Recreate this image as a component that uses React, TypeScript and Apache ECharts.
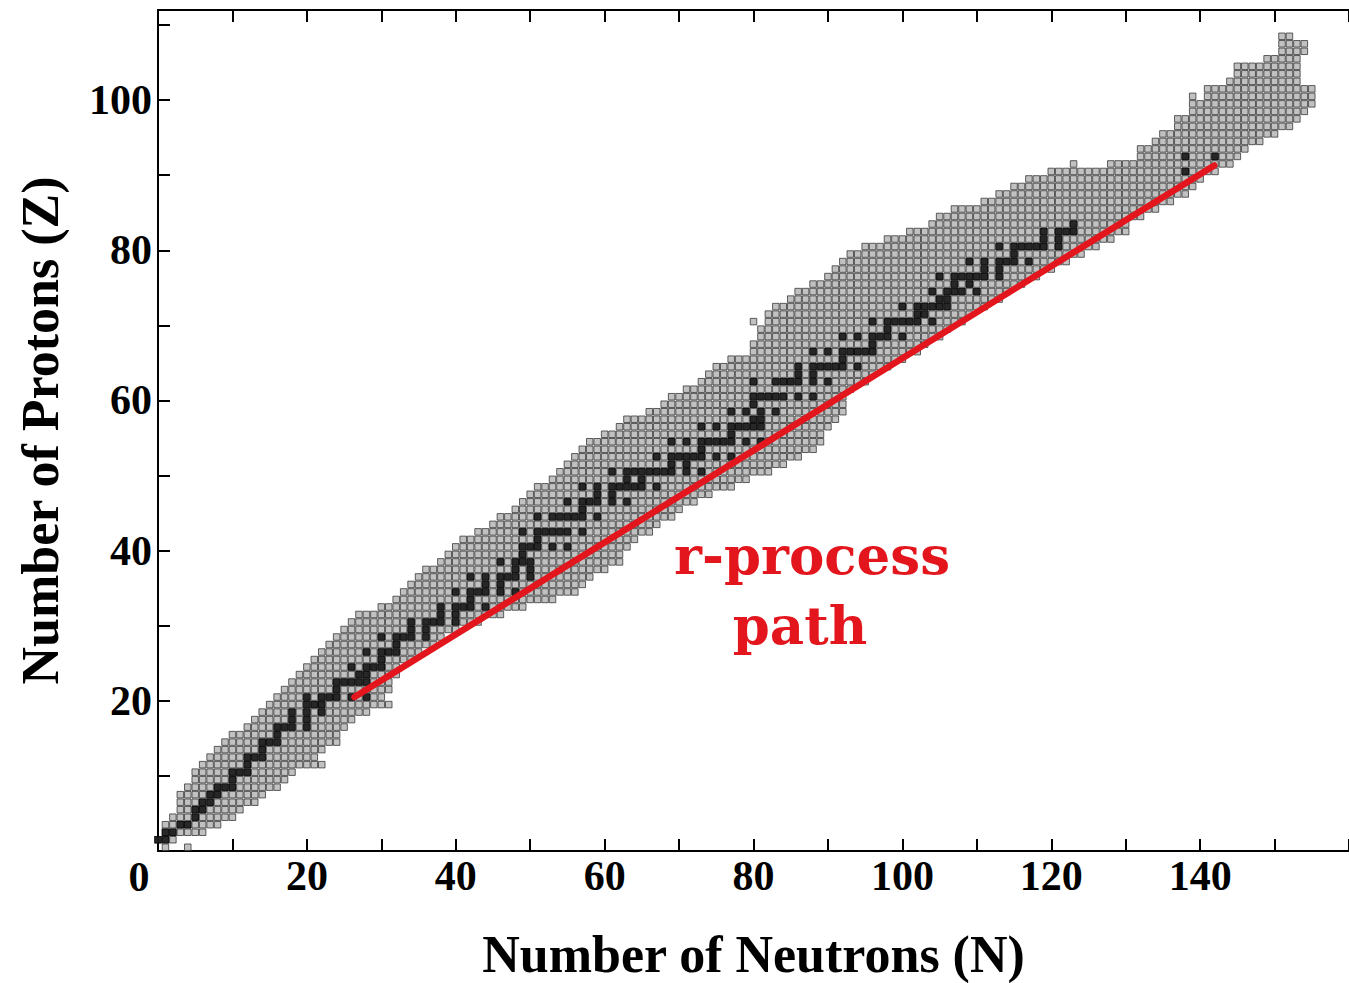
import React, { useEffect, useRef } from 'react';
import * as echarts from 'echarts';

// Chart of nuclides: for each proton number Z (array index) the lowest and highest
// neutron number N of the known nuclides.
const N_MIN: number[] = [
  1, // Z=0
  0, 1, 1, 2, 3, 3, 3, 4, 5, 5, // 1-10
  6, 7, 8, 9, 10, 12, 13, 14, 15, 16, // 11-20
  17, 18, 19, 20, 21, 22, 23, 24, 25, 26, // 21-30
  28, 30, 32, 33, 34, 35, 36, 38, 39, 40, // 31-40
  41, 43, 45, 46, 48, 49, 50, 51, 53, 54, // 41-50
  55, 56, 57, 59, 60, 62, 63, 66, 68, 69, // 51-60
  71, 73, 74, 75, 77, 80, 80, 81, 81, 82, // 61-70
  82, 83, 85, 86, 88, 90, 91, 92, 93, 95, // 71-80
  98, 101, 104, 105, 107, 111, 113, 115, 117, 120, // 81-90
  128, 132, 132, 134, 136, 137, 137, 139, 139, 141, // 91-100
  141, 144, 145, 145, 149, 151, 151, 151, // 101-108
];

const N_MAX: number[] = [
  1, // Z=0
  2, 6, 8, 10, 11, 13, 14, 16, 17, 18, // 1-10
  22, 21, 22, 24, 24, 25, 26, 28, 31, 30, // 11-20
  31, 31, 32, 32, 34, 35, 37, 38, 40, 43, // 21-30
  46, 49, 53, 56, 57, 58, 60, 62, 62, 63, // 31-40
  64, 66, 67, 69, 70, 72, 74, 77, 79, 82, // 41-50
  84, 86, 88, 89, 89, 90, 91, 92, 92, 92, // 51-60
  93, 95, 96, 98, 100, 102, 103, 105, 106, 108, // 61-70
  109, 111, 113, 114, 116, 118, 120, 122, 124, 126, // 71-80
  128, 130, 130, 132, 134, 136, 138, 139, 140, 142, // 81-90
  144, 145, 146, 148, 150, 152, 153, 154, 155, 155, // 91-100
  155, 153, 153, 153, 153, 154, 154, 152, // 101-108
];

// isolated known nuclides outside the ranges above: [N, Z]
const EXTRA_CELLS: number[][] = [
  [4, 0], [27, 31], [58, 54], [80, 70], [123, 91], [135, 95], [139, 100],
];

// stable nuclides (black cells), neutron numbers per Z as they sit in the picture
const STABLE_N: number[][] = [
  [], // 0
  [0, 1], [1, 2], [3, 4], [5], [5, 6], [6, 7], [7, 8], [8, 9, 10], [10], [10, 11, 12], // 1-10
  [12], [12, 13, 14], [14], [14, 15, 16], [16], [16, 17, 18, 20], [18, 20], [18, 20, 22], [20, 21, 22], [20, 22, 23, 24, 26, 28], // 11-20
  [24], [24, 25, 26, 27, 28], [27, 28], [26, 28, 29, 30], [30], [28, 30, 31, 32], [32], [30, 32, 33, 34, 36], [34, 36], [34, 36, 37, 38, 40], // 21-30
  [38, 40], [38, 40, 41, 42, 44], [42], [40, 42, 43, 44, 46, 48], [44, 46], [42, 44, 46, 47, 48, 50], [48, 50], [46, 48, 49, 50], [49], [49, 50, 51, 53, 55], // 31-40
  [51], [49, 51, 52, 53, 54, 55, 57], [], [51, 53, 54, 55, 56, 57, 59], [57], [55, 57, 58, 59, 61, 63], [59, 61], [57, 59, 61, 62, 63, 64, 65, 67], [63, 65], [61, 63, 64, 65, 66, 67, 68, 69, 71, 73], // 41-50
  [69, 71], [67, 69, 70, 71, 72, 73, 75, 77], [73], [69, 71, 73, 74, 75, 76, 77, 79, 81], [77], [73, 75, 77, 78, 79, 80, 81], [80, 81], [77, 79, 81, 83], [80], [80, 81, 82, 83, 84, 86, 88], // 51-60
  [], [80, 83, 84, 85, 86, 88, 90], [86, 88], [86, 88, 89, 90, 91, 92, 94], [92], [88, 90, 92, 93, 94, 95, 96], [96], [92, 94, 96, 97, 98, 100], [98], [96, 98, 99, 100, 101, 102, 104], // 61-70
  [102, 103], [100, 102, 103, 104, 105, 106], [105, 106], [104, 106, 107, 108, 110], [107, 109], [105, 107, 108, 109, 110, 111, 113], [111, 113], [109, 111, 113, 114, 115, 117], [115], [113, 115, 116, 117, 118, 119, 121], // 71-80
  [119, 121], [119, 121, 122, 123], [123], [], [], [], [], [], [], [138], // 81-90
  [], [138, 142], // 91-92
];

// r-process path end points: [N, Z]
const R_PROCESS_PATH: number[][] = [
  [26.4, 20.5],
  [141.9, 91.3],
];

const X_LABELS = [20, 40, 60, 80, 100, 120, 140];
const Y_LABELS = [20, 40, 60, 80, 100];

const App: React.FC = () => {
  const ref = useRef<HTMLDivElement>(null);

  useEffect(() => {
    if (!ref.current) return;
    const chart = echarts.init(ref.current, undefined, { renderer: 'svg' });

    const known: number[][] = [];
    N_MIN.forEach((lo, z) => {
      const hi = N_MAX[z];
      for (let n = lo; n <= hi; n++) known.push([n, z + 0.5]);
    });
    EXTRA_CELLS.forEach(([n, z]) => known.push([n, z + 0.5]));

    const stable: number[][] = [];
    STABLE_N.forEach((list, z) => list.forEach((n) => stable.push([n, z + 0.5])));

    const serif = '"Liberation Serif", "Times New Roman", serif';
    const axisLine = { show: true, onZero: false, lineStyle: { color: '#000', width: 2 } };
    const axisTick = { show: true, inside: true, length: 12, lineStyle: { color: '#000', width: 2 } };

    chart.setOption({
      animation: false,
      backgroundColor: '#fff',
      grid: {
        left: 158,
        right: 0,
        top: 10,
        bottom: 132,
        containLabel: false,
        outerBoundsMode: 'none',
      },
      xAxis: [
        {
          type: 'value',
          min: 0,
          max: 160,
          interval: 10,
          position: 'bottom',
          axisLine,
          axisTick,
          splitLine: { show: false },
          axisLabel: {
            margin: 4,
            color: '#000',
            fontFamily: serif,
            fontWeight: 'bold',
            fontSize: 42,
            formatter: (v: number) => (X_LABELS.includes(v) ? String(v) : ''),
          },
          name: 'Number of Neutrons (N)',
          nameLocation: 'middle',
          nameGap: 78,
          nameTextStyle: {
            color: '#000',
            fontFamily: serif,
            fontWeight: 'bold',
            fontSize: 52,
            lineHeight: 50,
          },
        },
        {
          type: 'value',
          min: 0,
          max: 160,
          interval: 10,
          position: 'top',
          axisLine,
          axisTick,
          splitLine: { show: false },
          axisLabel: { show: false },
        },
      ],
      yAxis: [
        {
          type: 'value',
          min: 0,
          max: 112,
          interval: 10,
          axisLine,
          axisTick,
          splitLine: { show: false },
          axisLabel: {
            margin: 6,
            color: '#000',
            fontFamily: serif,
            fontWeight: 'bold',
            fontSize: 42,
            formatter: (v: number) => (Y_LABELS.includes(v) ? String(v) : ''),
          },
          name: 'Number of Protons (Z)',
          nameLocation: 'middle',
          nameGap: 92,
          nameTextStyle: { color: '#000', fontFamily: serif, fontWeight: 'bold', fontSize: 52 },
        },
      ],
      series: [
        {
          name: 'Known nuclides',
          type: 'scatter',
          symbol: 'rect',
          symbolSize: 6.5,
          data: known,
          itemStyle: { color: '#b2b2b2', borderColor: '#383838', borderWidth: 1 },
          silent: true,
          z: 2,
        },
        {
          name: 'Stable nuclides',
          type: 'scatter',
          symbol: 'rect',
          symbolSize: 7.5,
          data: stable,
          itemStyle: { color: '#000' },
          silent: true,
          z: 3,
        },
        {
          name: 'r-process path',
          type: 'line',
          data: R_PROCESS_PATH,
          showSymbol: false,
          symbol: 'none',
          lineStyle: { color: '#e3161d', width: 6.5, cap: 'round' },
          silent: true,
          z: 4,
        },
      ],
      graphic: [
        {
          type: 'text',
          x: 139,
          y: 877,
          style: {
            text: '0',
            fill: '#000',
            font: 'bold 42px "Liberation Serif", serif',
            textAlign: 'center',
            textVerticalAlign: 'middle',
          },
        },
        {
          type: 'text',
          x: 812,
          y: 555,
          style: {
            text: 'r-process',
            fill: '#e3161d',
            font: 'bold 53px "DejaVu Serif", serif',
            textAlign: 'center',
            textVerticalAlign: 'middle',
          },
        },
        {
          type: 'text',
          x: 800,
          y: 625,
          style: {
            text: 'path',
            fill: '#e3161d',
            font: 'bold 53px "DejaVu Serif", serif',
            textAlign: 'center',
            textVerticalAlign: 'middle',
          },
        },
      ],
    });

    return () => chart.dispose();
  }, []);

  return (
    <div
      ref={ref}
      style={{ position: 'fixed', left: 0, top: 0, width: 1349, height: 983, background: '#fff' }}
    />
  );
};

export default App;
